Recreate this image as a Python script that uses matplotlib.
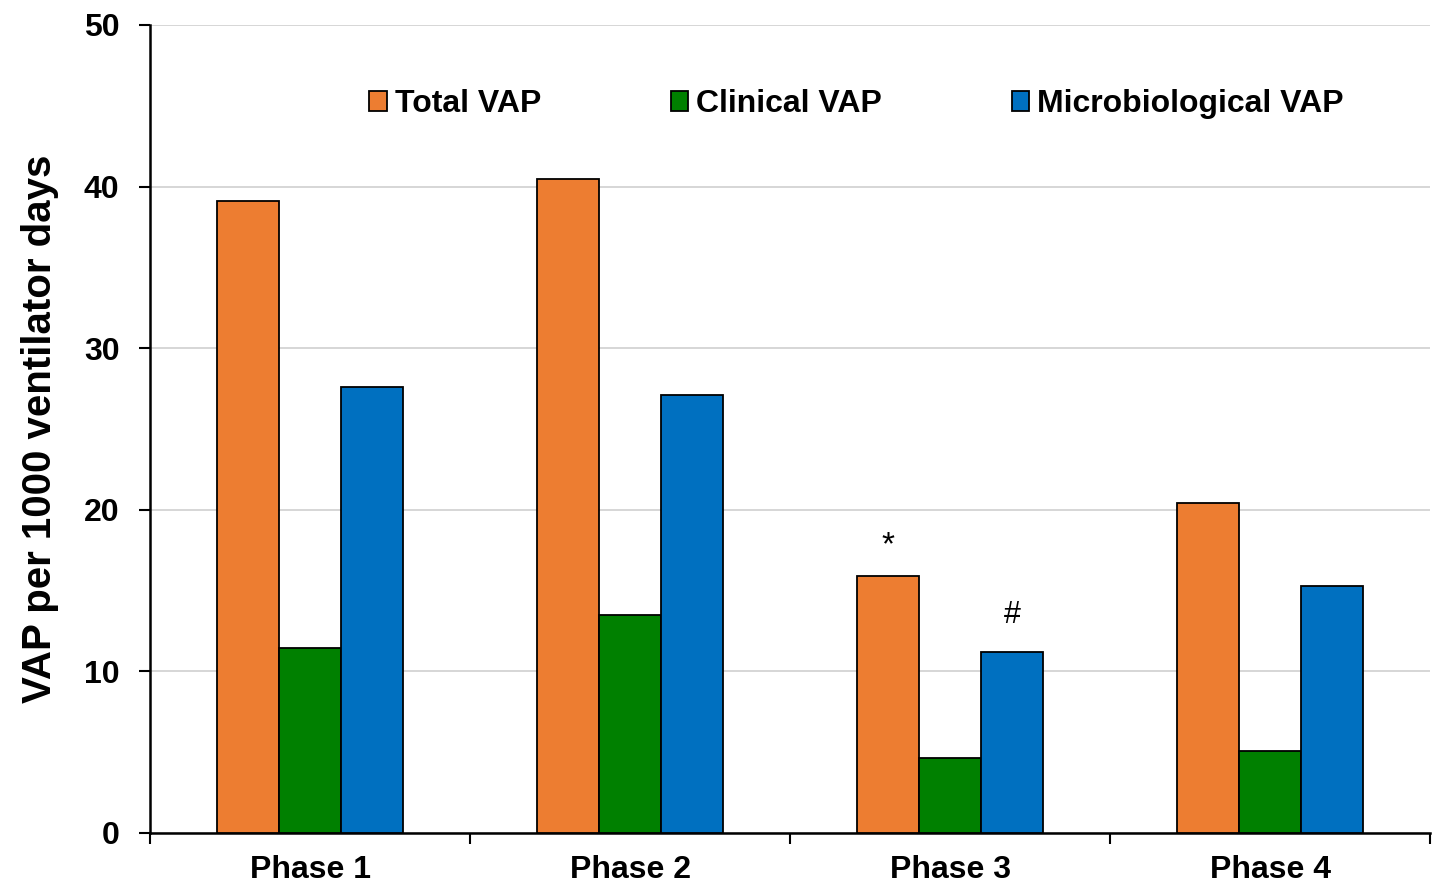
import numpy as np
import matplotlib
matplotlib.use("Agg")
import matplotlib.pyplot as plt

plt.rcParams['font.family'] = ['Liberation Sans', 'DejaVu Sans']

phases = ["Phase 1", "Phase 2", "Phase 3", "Phase 4"]
total_vap = [39.1, 40.5, 15.9, 20.4]
clinical_vap = [11.45, 13.5, 4.65, 5.1]
micro_vap = [27.6, 27.1, 11.2, 15.3]

series = [
    ("Total VAP", total_vap, "#ed7d31"),
    ("Clinical VAP", clinical_vap, "#008000"),
    ("Microbiological VAP", micro_vap, "#0070c0"),
]

fig = plt.figure(figsize=(14.37, 8.86), dpi=100)
ax = fig.add_axes([150 / 1437, 53 / 886, 1280 / 1437, 808 / 886])

x = np.arange(len(phases))
width = 0.194
for i, (name, vals, color) in enumerate(series):
    ax.bar(x + (i - 1) * width, vals, width, color=color, edgecolor="black",
           linewidth=1.3, label=name, zorder=3)

ax.set_xlim(-0.5, 3.5)
ax.set_ylim(0, 50)
ax.set_yticks(range(0, 51, 10))
ax.yaxis.grid(True, color="#d0d0d0", linewidth=1.2, zorder=0)
ax.set_xticks(x)
ax.set_xticklabels(phases, fontsize=23, fontweight="bold")
ax.set_xticks(np.arange(-0.5, 4, 1), minor=True)
ax.tick_params(axis="x", which="major", length=0, pad=16)
ax.tick_params(axis="x", which="minor", length=8, width=1.5, direction="out")
ax.tick_params(axis="y", length=8, width=1.5, labelsize=23, pad=14)
for lab in ax.get_yticklabels():
    lab.set_fontweight("bold")

for s in ["top", "right"]:
    ax.spines[s].set_visible(False)
for s in ["left", "bottom"]:
    ax.spines[s].set_linewidth(1.8)

ax.set_ylabel("VAP per 1000 ventilator days", fontsize=29, fontweight="bold", labelpad=18)

# significance markers
ax.text(x[2] - width, total_vap[2] + 1.9, "*", ha="center", va="center", fontsize=24)
ax.text(x[2] + width, micro_vap[2] + 2.3, "#", ha="center", va="center", fontsize=22)

leg = ax.legend(loc="center", bbox_to_anchor=(0.552, 0.902), ncol=3, frameon=False,
                prop={"size": 23, "weight": "bold"}, handlelength=0.55, handleheight=0.55,
                handletextpad=0.25, columnspacing=4.05)

fig.savefig("out.png", dpi=100)
